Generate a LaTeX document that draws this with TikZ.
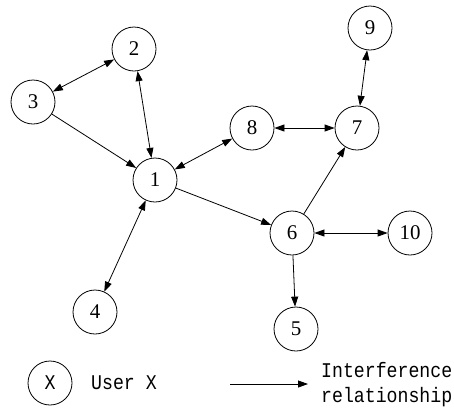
\documentclass[tikz,border=0pt]{standalone}
\usepackage{fontspec}
\setmainfont{Liberation Serif}
\setmonofont[FakeStretch=0.87]{Liberation Mono}
\usetikzlibrary{arrows.meta}
\begin{document}
\begin{tikzpicture}[x=1bp,y=-1bp,
  user/.style={circle,draw,line width=0.8bp,minimum size=44bp,inner sep=0pt,font=\fontsize{21}{21}\selectfont},
  rel/.style={line width=0.8bp,-{Triangle[length=10bp,width=7bp]}},
  birel/.style={line width=0.8bp,{Triangle[length=10bp,width=7bp]}-{Triangle[length=10bp,width=7bp]}},
  lbl/.style={font=\ttfamily\fontsize{21}{25}\selectfont,inner sep=0pt}]
\useasboundingbox (0,0) rectangle (454,414);
\node[user] (n1) at (155,180) {1};
\node[user] (n2) at (134,49) {2};
\node[user] (n3) at (33,102) {3};
\node[user] (n4) at (95,312) {4};
\node[user] (n5) at (296,329) {5};
\node[user] (n6) at (292,233) {6};
\node[user] (n7) at (357,128) {7};
\node[user] (n8) at (252,128) {8};
\node[user] (n9) at (370,28) {9};
\node[user] (n10) at (410,233) {10};
\draw[rel] (n3) -- (n1);
\draw[birel] (n3) -- (n2);
\draw[birel] (n2) -- (n1);
\draw[birel] (n1) -- (n8);
\draw[rel] (n1) -- (n6);
\draw[birel] (n4) -- (n1);
\draw[birel] (n8) -- (n7);
\draw[birel] (n7) -- (n9);
\draw[rel] (n6) -- (n7);
\draw[birel] (n6) -- (n10);
\draw[rel] (n6) -- (n5);
% legend
\node[user,font=\ttfamily\fontsize{21}{21}\selectfont] (lx) at (50,383) {X};
\node[lbl,anchor=west] (lu) at (91,383) {User X};
\coordinate (la) at (230,384);
\coordinate (lb) at (308,384);
\draw[rel] (la) -- (lb);
\node[lbl,align=left,anchor=west] (lr) at (321,385) {Interference\\relationship};
\end{tikzpicture}
\end{document}
